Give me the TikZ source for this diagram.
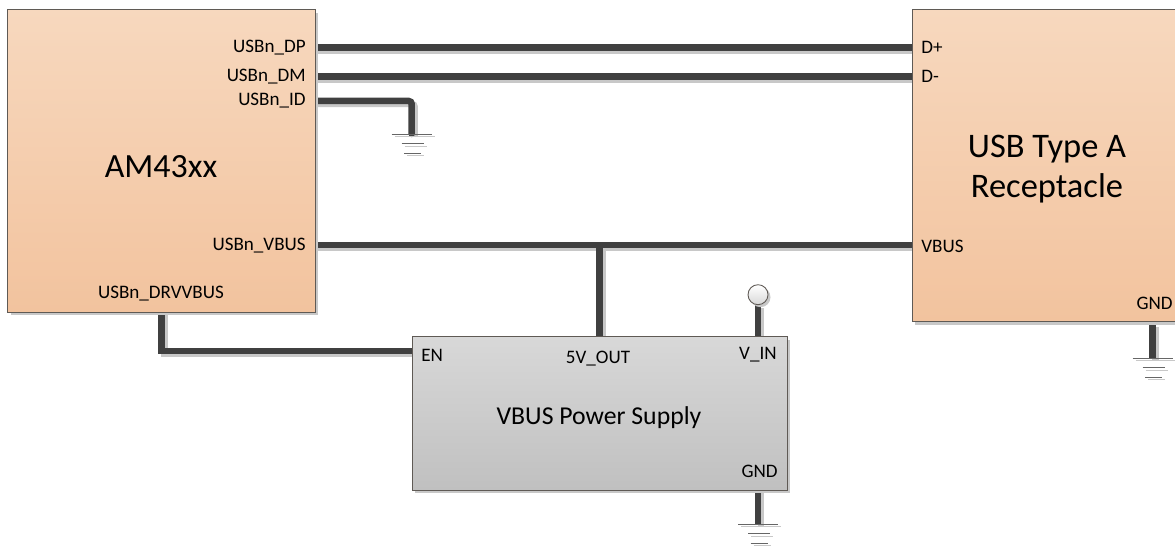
\documentclass[tikz,border=0pt]{standalone}
\usepackage{fontspec}
\setmainfont{Carlito}
\usepackage{xcolor}
\usetikzlibrary{shadows, backgrounds}
\definecolor{boxline}{RGB}{95, 90, 85}
\definecolor{wiredark}{RGB}{64, 64, 64}
\definecolor{shadowgray}{RGB}{200, 200, 200}
\definecolor{peachtop}{RGB}{247, 216, 190}
\definecolor{peachbot}{RGB}{242, 195, 158}
\definecolor{greytop}{RGB}{216, 216, 216}
\definecolor{greybot}{RGB}{192, 192, 192}

\begin{document}
\begin{tikzpicture}[
		x=0.02cm, y=-0.02cm,
		blockbox/.style={draw=boxline, line width=0.5pt, inner sep=0pt,
			general shadow={fill=shadowgray, shadow xshift=0.06cm, shadow yshift=-0.06cm}},
		socbox/.style={blockbox, top color=peachtop, bottom color=peachbot},
		supbox/.style={blockbox, top color=greytop, bottom color=greybot},
		wire/.style={draw=wiredark, line width=0.13cm,
			preaction={draw=shadowgray, line width=0.13cm,
				transform canvas={shift={(0.06cm,-0.06cm)}}}},
		gndline/.style={draw=wiredark!80, line width=0.35pt,
			preaction={draw=shadowgray, line width=0.35pt,
				transform canvas={shift={(0.06cm,-0.05cm)}}}},
		pinlbl/.style={font=\fontsize{10.85}{13}\selectfont, text=black, inner sep=0pt},
		title/.style={align=center, text=black, inner sep=0pt}
	]
	\useasboundingbox (0,0) rectangle (1175,546);

	%% 1. Blocks
	\node[socbox, minimum width=6.15cm, minimum height=6.05cm] (am43) at (161.25,160.75) {};
	\node[socbox, minimum width=5.4cm, minimum height=6.25cm] (usbA) at (1047,165.5) {};
	\node[supbox, minimum width=7.5cm, minimum height=3.07cm] (psu) at (599.5,413.3) {};

	\node[title, font=\fontsize{19.3}{22.7}\selectfont] (am43Name) at (161,166.5) {AM43xx};
	\node[title, font=\fontsize{19.6}{22.7}\selectfont] (usbName) at (1047,169) {USB Type A\\Receptacle};
	\node[title, font=\fontsize{14.65}{17}\selectfont] (psuName) at (599,417.5) {VBUS Power Supply};

	%% 2. Pin labels
	\node[pinlbl, anchor=east] (lblDP) at (306,48) {USBn\_DP};
	\node[pinlbl, anchor=east] (lblDM) at (306,77) {USBn\_DM};
	\node[pinlbl, anchor=east] (lblID) at (306,101) {USBn\_ID};
	\node[pinlbl, anchor=east] (lblVbus) at (306,246) {USBn\_VBUS};
	\node[pinlbl] (lblDrv) at (161,294) {USBn\_DRVVBUS};

	\node[pinlbl, anchor=west] (lblDplus) at (921,47) {D+};
	\node[pinlbl, anchor=west] (lblDminus) at (921,76) {D-};
	\node[pinlbl, anchor=west] (lblUsbVbus) at (921,246) {VBUS};
	\node[pinlbl, anchor=east] (lblUsbGnd) at (1173,303) {GND};

	\node[pinlbl, anchor=west] (lblEn) at (421,355) {EN};
	\node[pinlbl] (lblOut) at (598,359) {5V\_OUT};
	\node[pinlbl, anchor=east] (lblVin) at (777,355) {V\_IN};
	\node[pinlbl, anchor=east] (lblPsuGnd) at (778,471) {GND};

	%% 3. V_IN terminal
	\node[circle, draw=boxline, line width=0.5pt, minimum size=0.4cm, inner sep=0pt,
		top color=white, bottom color=greytop,
		general shadow={fill=shadowgray, shadow xshift=0.05cm, shadow yshift=-0.05cm}]
		(vinTerm) at (758,294.7) {};

	%% 4. Ground points
	\coordinate (gndId) at (411.7,134);
	\coordinate (gndPsu) at (758,524);
	\coordinate (gndUsb) at (1152.7,358);
	\coordinate (pinDP) at (315,47.5);
	\coordinate (pinDM) at (315,76.5);
	\coordinate (pinID) at (315,101);
	\coordinate (pinVbus) at (315,245);
	\coordinate (pinEn) at (411.7,351);
	\coordinate (pinUsbGnd) at (1152.7,324);

	\foreach \gnd in {gndId,gndPsu,gndUsb} {
		\draw[gndline] (\gnd) ++(-20,0) -- ++(40,0);
		\draw[gndline] (\gnd) ++(-10,9.5) -- ++(22,0);
		\draw[gndline] (\gnd) ++(-7.5,19) -- ++(17,0);
	}

	%% 5. Wires
	\begin{scope}[on background layer]
		\draw[wire] (pinDP) -- (usbA.west |- pinDP);
		\draw[wire] (pinDM) -- (usbA.west |- pinDM);
		\draw[wire] (pinVbus) -- (usbA.west |- pinVbus);
		\draw[wire] (psu.north) -- (psu.north |- pinVbus);
		\draw[wire, rounded corners=0.06cm, line cap=round] (pinID) -| (gndId);
		\draw[wire] (am43.south) |- (pinEn);
		\draw[wire] (vinTerm) -- (vinTerm |- psu.north);
		\draw[wire] (gndPsu |- psu.south) -- (gndPsu);
		\draw[wire] (pinUsbGnd) -- (gndUsb);
	\end{scope}
\end{tikzpicture}
\end{document}
